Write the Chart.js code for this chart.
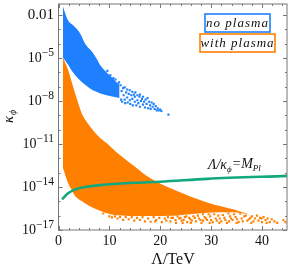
<!DOCTYPE html>
<html>
<head>
<meta charset="utf-8">
<script src="https://cdn.jsdelivr.net/npm/chart.js@4"></script>
<style>
  html, body { margin: 0; padding: 0; background: #fff; }
  canvas { display: block; }
</style>
</head>
<body>
<canvas id="chart" width="291" height="269"></canvas>
<script>
// all y values as log10(kappa)
const blueX = [0.88, 1.85, 2.83, 4.2, 5.37, 6.74, 7.7, 8.1, 10.06, 12];
const blueUpper = [-1.4, -2.36, -2.7, -3.25, -4.08, -4.63, -5.18, -5.45, -6.21, -6.9];
const blueLower = [-4.97, -5.45, -6, -6.55, -6.9, -7.24, -7.38, -7.45, -7.65, -7.79];

// scattered tail of the blue cloud: [Lambda, log10 kappa]
const blueDots = [[9.6,-5.9],[10.2,-6.2],[10.8,-6.4],[11.2,-6.5],[11.6,-6.8],[11.9,-6.7],[12.2,-6.9],[12.3,-7.9],[12.4,-7.3],[12.5,-8.05],[12.7,-7.1],[12.8,-7.6],[13,-7.05],[13,-7.9],[13.1,-8.15],[13.3,-7.4],[13.5,-7.2],[13.5,-7.75],[13.6,-8.1],[13.8,-7.5],[14,-7.25],[14,-7.95],[14.1,-8.2],[14.3,-7.6],[14.5,-7.35],[14.5,-7.85],[14.6,-8.3],[14.8,-7.55],[15,-8.05],[15,-7.7],[15.1,-7.4],[15.3,-8.3],[15.5,-7.6],[15.5,-7.95],[15.7,-8.15],[15.9,-7.7],[16,-8.4],[16,-7.55],[16.2,-8],[16.4,-7.85],[16.6,-8.25],[16.6,-7.7],[16.8,-8.05],[17,-8.45],[17.1,-7.9],[17.3,-8.2],[17.5,-7.8],[17.6,-8.5],[17.8,-8.05],[18,-8.3],[18.1,-8.55],[18.3,-8.1],[18.5,-8.4],[18.7,-8.2],[18.9,-8.55],[19.1,-8.35],[19.3,-8.65],[19.5,-8.5],[19.7,-8.65],[20,-8.6],[20.2,-8.7],[21.6,-8.95]];

const orangeX = [0.88, 1.86, 2.44, 3.2, 3.8, 4.6, 5.8, 7.9, 9.5, 11.4, 14.6, 17.9, 22.6, 29.2, 34.3, 37.4];
const orangeUpper = [-4.97, -5.8, -6.48, -7.38, -8.07, -8.89, -9.58, -10.47, -10.95, -11.57, -12.46, -13.36, -14.18, -15.08, -15.56, -15.9];
const orangeLower = [-12.67, -13.7, -14.11, -14.59, -14.8, -15, -15.28, -15.63, -15.83, -15.97, -16.02, -16.02, -16, -15.8, -15.76, -15.9];

// speckled lower fringe and right tail of the orange cloud
const orangeDots = [[8.8,-15.85],[10,-16.05],[10.5,-16.12],[11.1,-16.05],[11.6,-16.2],[12.1,-16.08],[12.7,-16.3],[13.2,-16.1],[13.8,-16.25],[14.4,-16.1],[14.9,-16.35],[15.4,-16.15],[16,-16.3],[16.5,-16.1],[17,-16.4],[17.6,-16.2],[18.1,-16.42],[18.7,-16.1],[19.2,-16.3],[19.8,-16.15],[20.3,-16.45],[20.9,-16.2],[21.5,-16.1],[22,-16.4],[22.5,-16.15],[23.1,-16.5],[23.7,-16.2],[24.2,-16.35],[24.8,-16.1],[25.3,-16.45],[25.9,-16.25],[26.5,-16.05],[27,-16.4],[27.6,-16.2],[28.1,-16.5],[28.7,-16.1],[29.2,-16.3],[29.8,-16.05],[30.3,-16.45],[30.9,-16.2],[31.4,-16],[32,-16.4],[32.6,-16.15],[33.1,-16.5],[33.7,-16.05],[34.2,-16.3],[34.8,-16.1],[35.4,-16.45],[36,-16.2],[36.5,-16.05],[37.1,-16.35],[37.7,-16.15],
[22.2,-16.15],[23,-16.3],[23.4,-16.05],[24,-16.15],[24.6,-16.3],[25.1,-16.05],[25.7,-16.15],[26.2,-16.35],[26.8,-16.15],[27.4,-16],[27.9,-16.3],[28.4,-15.9],[29,-16.2],[29.5,-15.9],[30,-16.3],[30.6,-15.9],[31.1,-16.35],[31.7,-16.2],[32.3,-15.95],[32.8,-16.3],[33.4,-15.85],[33.9,-16.2],[34.5,-15.9],[35.1,-16.25],[35.7,-15.85],[36.2,-16.4],[36.8,-16],[37.4,-16.25],[38,-16.05],[38.3,-16.4],[38.6,-16.2],[39,-16],[39.3,-16.35],[39.6,-16.15],[40,-16.45],[40.3,-16.1],[40.7,-16.3],[41.1,-16.2],[41.5,-16.45],[41.9,-16.25],[42.4,-16.4],[43,-16.5],[44.2,-16.3],[44.6,-16.45],
[19,-16.4],[21.2,-16.35],[24.4,-16.5],[26,-16.5],[28.4,-16.35],[29.7,-16.5],[31.6,-16.5],[33.5,-16.4],[35,-16.5],[37.9,-16.5],[39.9,-16.2],[40.9,-16.5]];

const greenX = [0.7, 1.8, 3.2, 5.6, 9, 14.9, 20, 29.2, 45];
const greenExp = [-14.87, -14.46, -14.18, -13.98, -13.84, -13.7, -13.63, -13.43, -13.22];

const xTicks = [0, 10, 20, 30, 40];
const xMinor = [2, 4, 6, 8, 12, 14, 16, 18, 22, 24, 26, 28, 32, 34, 36, 38, 42, 44];
const yTicks = [-2, -5, -8, -11, -14, -17];
const yTickLabels = ["0.01", "-5", "-8", "-11", "-14", "-17"];
const yMinor = [-3, -4, -6, -7, -9, -10, -12, -13, -15, -16];

const BLUE = "#1e80ff", ORANGE = "#ff8000", GREEN = "#12a87e", FRAME = "#777";
const SERIF = '"Liberation Serif", serif';

const toPoints = (xs, exps) => xs.map((x, i) => ({ x, y: Math.pow(10, exps[i]) }));
const pairsToPoints = pairs => pairs.map(p => ({ x: p[0], y: Math.pow(10, p[1]) }));

function band(xs, exps, color, fill, order) {
  return { data: toPoints(xs, exps), showLine: true, borderWidth: 0, pointRadius: 0, borderColor: color,
           backgroundColor: color, cubicInterpolationMode: "monotone", fill, order };
}
function dots(pairs, color, order) {
  return { data: pairsToPoints(pairs), showLine: false, pointStyle: "rect", pointRadius: 1.5, pointBorderWidth: 0,
           pointBackgroundColor: color, order };
}

// frame, inward ticks, tick labels and annotations
const chrome = {
  id: "chrome",
  afterDraw(chart) {
    const { ctx, chartArea: a, scales: { x, y } } = chart;
    ctx.save();
    ctx.strokeStyle = FRAME;
    ctx.lineWidth = 1;
    ctx.strokeRect(a.left, a.top, a.right - a.left, a.bottom - a.top);
    const vTick = (v, len) => {
      const p = Math.round(x.getPixelForValue(v)) + 0.5;
      ctx.moveTo(p, a.bottom); ctx.lineTo(p, a.bottom - len);
      ctx.moveTo(p, a.top); ctx.lineTo(p, a.top + len);
    };
    const hTick = (e, len) => {
      const p = Math.round(y.getPixelForValue(Math.pow(10, e))) + 0.5;
      ctx.moveTo(a.left, p); ctx.lineTo(a.left + len, p);
      ctx.moveTo(a.right, p); ctx.lineTo(a.right - len, p);
    };
    ctx.beginPath();
    xTicks.forEach(v => vTick(v, 4));
    xMinor.forEach(v => vTick(v, 2));
    yTicks.forEach(e => hTick(e, 4));
    yMinor.forEach(e => hTick(e, 2));
    ctx.stroke();

    ctx.fillStyle = "#111";
    ctx.textBaseline = "alphabetic";
    ctx.font = "14px " + SERIF;
    ctx.textAlign = "center";
    xTicks.forEach(v => ctx.fillText(String(v), x.getPixelForValue(v), 245));

    yTicks.forEach((e, i) => {
      const py = y.getPixelForValue(Math.pow(10, e)) + 4;
      const label = yTickLabels[i];
      ctx.textAlign = "right";
      if (label === "0.01") {
        ctx.font = "15px " + SERIF;
        ctx.fillText(label, 54, py);
      } else {
        const sup = label.replace("-", "\u2212");
        ctx.font = "11.5px " + SERIF;
        ctx.fillText(sup, 54, py - 6);
        const w = ctx.measureText(sup).width;
        ctx.font = "14px " + SERIF;
        ctx.fillText("10", 54 - w, py);
      }
    });

    // axis titles
    ctx.textAlign = "center";
    ctx.font = "16px " + SERIF;
    ctx.fillText("\u039B/TeV", 173, 264);
    ctx.save();
    ctx.translate(13, 116);
    ctx.rotate(-Math.PI / 2);
    ctx.font = "italic 15px " + SERIF;
    ctx.textAlign = "left";
    ctx.fillText("\u03BA", -7, 0);
    ctx.font = "italic 10px " + SERIF;
    ctx.fillText("\u03D5", 1, 3);
    ctx.restore();

    // legend boxes
    const box = (bx, by, w, h, color, text) => {
      ctx.fillStyle = "#fff";
      ctx.fillRect(bx, by, w, h);
      ctx.strokeStyle = color;
      ctx.lineWidth = 1.6;
      ctx.strokeRect(bx, by, w, h);
      ctx.fillStyle = "#111";
      ctx.font = "italic 13px " + SERIF;
      ctx.letterSpacing = "1px";
      ctx.textAlign = "center";
      ctx.fillText(text, bx + w / 2, by + h - 5);
      ctx.letterSpacing = "0px";
    };
    box(205, 14, 65, 18, BLUE, "no plasma");
    box(200, 34, 75, 18, ORANGE, "with plasma");

    // Lambda / kappa = M_Pl label, run left to right
    ctx.fillStyle = "#111";
    ctx.textAlign = "left";
    let tx = 208;
    const run = (text, size, base) => {
      ctx.font = "italic " + size + "px " + SERIF;
      ctx.fillText(text, tx, base);
      tx += ctx.measureText(text).width;
    };
    run("\u039B/\u03BA", 14, 169);
    run("\u03D5", 9, 172);
    run("=M", 14, 168);
    run("Pl", 9, 171);
    ctx.restore();
  }
};

new Chart(document.getElementById("chart"), {
  type: "scatter",
  data: {
    datasets: [
      band(orangeX, orangeUpper, ORANGE, "+1", 5),
      band(orangeX, orangeLower, ORANGE, false, 5),
      dots(orangeDots, ORANGE, 4),
      band(blueX, blueUpper, BLUE, "+1", 3),
      band(blueX, blueLower, BLUE, false, 3),
      dots(blueDots, BLUE, 2),
      { data: toPoints(greenX, greenExp), showLine: true, borderColor: GREEN, borderWidth: 2.6, pointRadius: 0,
        cubicInterpolationMode: "monotone", fill: false, order: 1 }
    ]
  },
  options: {
    responsive: false,
    animation: false,
    layout: { padding: { left: 58.5, right: 3, top: 0.5, bottom: 39 } },
    plugins: { legend: { display: false }, tooltip: { enabled: false } },
    scales: {
      x: { type: "linear", display: false, min: 0, max: 44.9 },
      y: { type: "logarithmic", display: false, min: 1e-17, max: Math.pow(10, -1.23) }
    }
  },
  plugins: [chrome]
});
</script>
</body>
</html>
